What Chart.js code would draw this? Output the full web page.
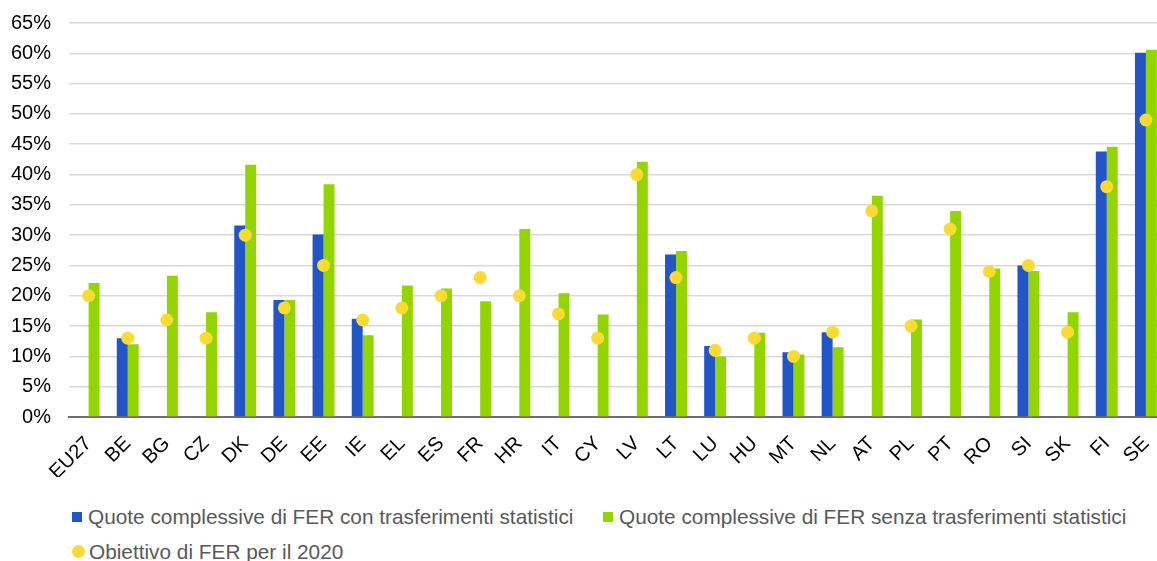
<!DOCTYPE html>
<html>
<head>
<meta charset="utf-8">
<script src="https://cdn.jsdelivr.net/npm/chart.js@4/dist/chart.umd.min.js"></script>
<style>
  html, body { margin: 0; padding: 0; background: #fff; }
  body { width: 1157px; height: 561px; overflow: hidden; position: relative; font-family: "Liberation Sans", Arial, sans-serif; }
  #wrap { position: absolute; left: 0; top: 0; width: 1172px; height: 480px; }
  .leg { position: absolute; display: flex; align-items: center; font-size: 20.8px; color: #595959; white-space: nowrap; line-height: 21px; }
  .sw { display: inline-block; margin-right: 6px; }
</style>
</head>
<body>
<div id="wrap"><canvas id="c"></canvas></div>
<div class="leg" style="left:72px; top:506px;"><span class="sw" style="width:10px;height:10px;background:#2256C8;"></span><span id="l0"></span></div>
<div class="leg" style="left:603px; top:506px;"><span class="sw" style="width:10px;height:10px;background:#93D500;"></span><span id="l1"></span></div>
<div class="leg" style="left:72px; top:541px;"><span class="sw" style="width:13px;height:13px;border-radius:50%;background:#F9DB33;margin-right:4px;"></span><span id="l2"></span></div>
<script>
const categories = ["EU27","BE","BG","CZ","DK","DE","EE","IE","EL","ES","FR","HR","IT","CY","LV","LT","LU","HU","MT","NL","AT","PL","PT","RO","SI","SK","FI","SE"];
const withTransfers = [null,13.0,null,null,31.6,19.3,30.1,16.2,null,null,null,null,null,null,null,26.8,11.7,null,10.7,14.0,null,null,null,null,25.0,null,43.8,60.1];
const withoutTransfers = [22.1,12.0,23.3,17.3,41.6,19.3,38.4,13.5,21.7,21.2,19.1,31.0,20.4,16.9,42.1,27.4,10.0,13.9,10.3,11.5,36.5,16.1,34.0,24.5,24.1,17.3,44.6,60.6];
const target2020 = [20,13,16,13,30,18,25,16,18,20,23,20,17,13,40,23,11,13,10,14,34,15,31,24,25,14,38,49];
const seriesNames = ["Quote complessive di FER con trasferimenti statistici","Quote complessive di FER senza trasferimenti statistici","Obiettivo di FER per il 2020"];
const yTicks = [0,5,10,15,20,25,30,35,40,45,50,55,60,65];

document.getElementById('l0').textContent = seriesNames[0];
document.getElementById('l1').textContent = seriesNames[1];
document.getElementById('l2').textContent = seriesNames[2];

const FONT = "'Liberation Sans', Arial, sans-serif";
new Chart(document.getElementById('c'), {
  data: {
    labels: categories,
    datasets: [
      { type: 'bar', label: seriesNames[0], data: withTransfers, backgroundColor: '#2256C8', categoryPercentage: 0.56, barPercentage: 1.0, order: 1 },
      { type: 'bar', label: seriesNames[1], data: withoutTransfers, backgroundColor: '#93D500', categoryPercentage: 0.56, barPercentage: 1.0, order: 1 },
      { type: 'line', label: seriesNames[2], data: target2020, showLine: false, pointRadius: 6.5, pointBackgroundColor: '#F9DB33', pointBorderWidth: 0, pointBorderColor: '#F9DB33', order: -1 }
    ]
  },
  options: {
    responsive: true,
    maintainAspectRatio: false,
    animation: false,
    layout: { padding: { top: 23, right: 0, bottom: 3, left: 0 } },
    plugins: { legend: { display: false }, tooltip: { enabled: false } },
    scales: {
      x: {
        grid: { display: false, drawTicks: false },
        border: { display: true, color: '#6e6e6e', width: 2 },
        ticks: { autoSkip: false, maxRotation: 45, minRotation: 45, color: '#000', font: { family: FONT, size: 20 }, padding: 15 },
        afterFit: (s) => { s.height = 60; s.paddingLeft = 0; s.paddingRight = 0; }
      },
      y: {
        min: 0, max: 65,
        afterBuildTicks: (s) => { s.ticks = yTicks.map(v => ({ value: v })); },
        grid: { color: '#d9d9d9', lineWidth: 1.5, drawTicks: false },
        border: { display: false },
        ticks: { color: '#000', font: { family: FONT, size: 20 }, padding: 18, callback: (v) => v + '%' },
        afterFit: (s) => { s.width = 69; s.paddingTop = 0; s.paddingBottom = 0; }
      }
    }
  }
});
</script>
</body>
</html>
